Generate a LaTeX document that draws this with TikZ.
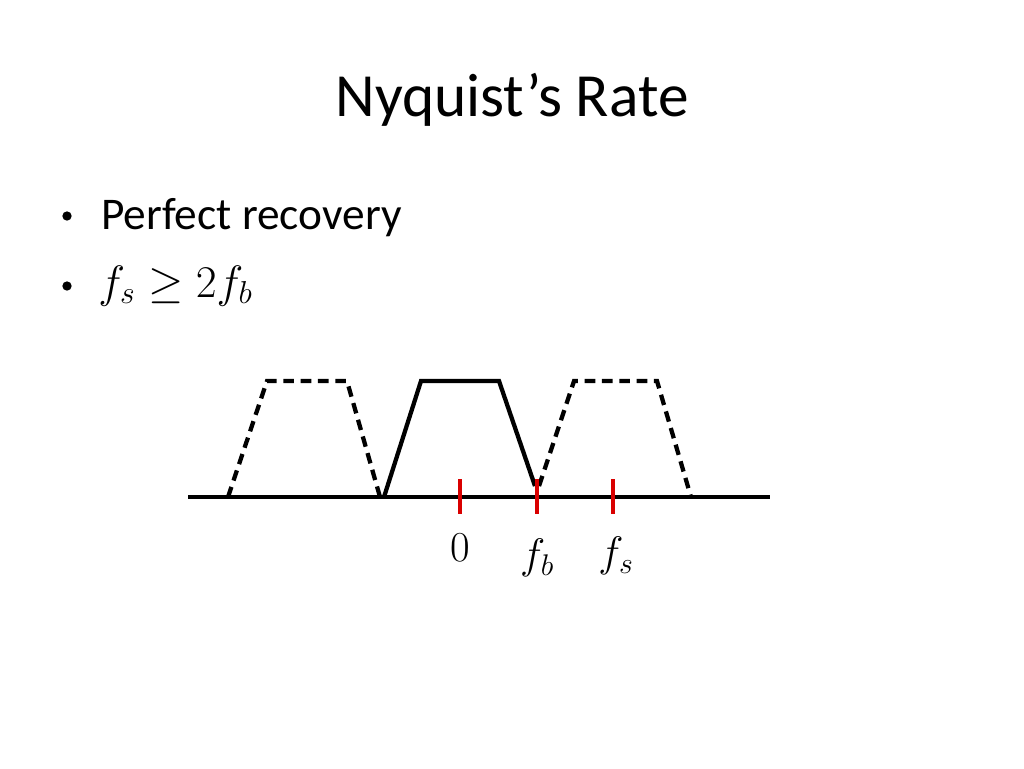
\RequirePackage{fix-cm}
\documentclass[tikz,border=0pt]{standalone}
\usepackage{fontspec}
\setmainfont{Carlito}
\begin{document}
\begin{tikzpicture}[x=0.75pt,y=-0.75pt,
  axisline/.style={line width=3.2pt,black},
  band/.style={line width=3.2pt,black,line join=miter},
  alias band/.style={band,dash pattern=on 8pt off 5pt},
  tickmark/.style={line width=3.4pt,red!85!black},
  ticklabel/.style={font=\fontsize{32}{36}\selectfont,anchor=center,inner sep=0pt},
  bodytext/.style={font=\fontsize{34}{40}\selectfont,anchor=base west,inner sep=0pt},
  bulletmark/.style={circle,fill=black,inner sep=0pt,minimum size=7pt}]
\useasboundingbox[fill=white] (0,0) rectangle (1024,768);
% title
\node[font=\fontsize{46}{54}\selectfont,anchor=base,inner sep=0pt] (title) at (512,116) {Nyquist’s Rate};
% bullets
\node[bulletmark] (b1) at (67,216) {};
\node[bodytext] (t1) at (101,229) {Perfect recovery};
\node[bulletmark] (b2) at (67,286) {};
\node[bodytext] (t2) at (98,297) {$f_s \geq 2f_b$};
% axis
\coordinate (axL) at (188,497);
\coordinate (axR) at (770,497);
\draw[axisline] (axL) -- (axR);
% spectra
\draw[alias band] (228,497) -- (267,381) -- (347,381) -- (380,497);
\draw[band] (384,497) -- (421,381) -- (499,381) -- (535,486);
\draw[alias band] (539,486) -- (574,381) -- (657,381) -- (691,497);
% ticks
\coordinate (t0) at (460,497);
\coordinate (tb) at (537,497);
\coordinate (ts) at (613,497);
\foreach \c in {t0,tb,ts} \draw[tickmark] ([yshift=13.5pt]\c) -- ([yshift=-13pt]\c);
\node[ticklabel] (l0) at (460,548) {$0$};
\node[ticklabel] (lb) at (537,558) {$f_b$};
\node[ticklabel] (ls) at (616,556) {$f_s$};
\end{tikzpicture}
\end{document}
